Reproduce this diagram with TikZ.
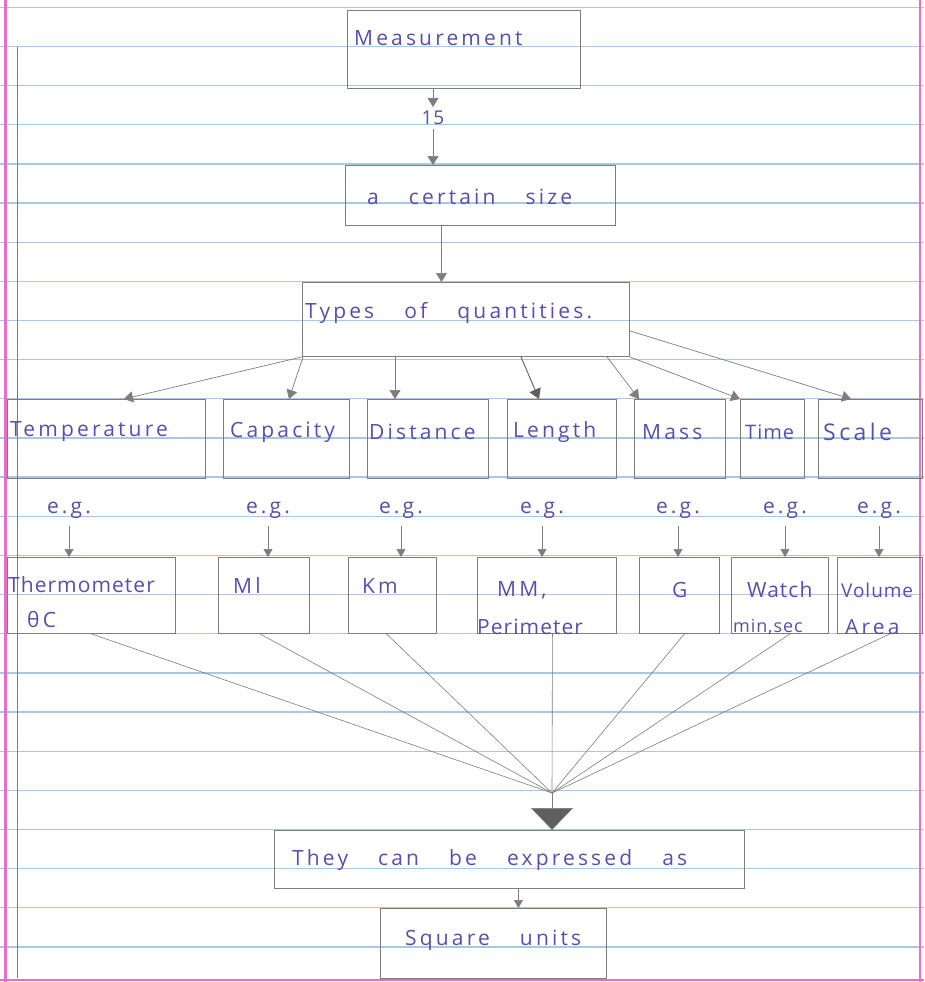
\documentclass[tikz,border=0pt]{standalone}
\usepackage{fontspec}
\newfontfamily\hand{Open Sans}[LetterSpace=15, WordSpace=3.5]
\newfontfamily\handn{Open Sans}[LetterSpace=5, WordSpace=3]
\usetikzlibrary{arrows.meta,calc}
\definecolor{ink}{RGB}{88,78,178}
\definecolor{pencil}{RGB}{125,125,125}
\definecolor{darkpencil}{RGB}{95,95,95}
\definecolor{ruleblue}{RGB}{168,200,228}
\definecolor{marginpink}{RGB}{228,110,200}
\begin{document}
\begin{tikzpicture}[x=1pt,y=-1pt,
  box/.style={draw=pencil, line width=0.9pt, anchor=north west, inner sep=0pt},
  txt/.style={font=\hand\fontsize{21}{24}\selectfont, text=ink, inner sep=0pt},
  conn/.style={draw=pencil, line width=0.7pt, -{Triangle[width=11pt,length=9pt,fill=pencil]}},
  smallconn/.style={draw=pencil, line width=0.7pt, -{Triangle[width=9pt,length=8pt,fill=pencil]}},
  darkconn/.style={draw=darkpencil, line width=0.9pt, -{Triangle[width=12pt,length=10pt,fill=darkpencil]}},
  pline/.style={draw=pencil, line width=0.6pt},
  bigconn/.style={draw=pencil, line width=0.6pt, -{Triangle[width=42pt,length=22pt,fill=darkpencil]}}
]
\useasboundingbox (0,0) rectangle (924,982);
% paper
\fill[white] (0,0) rectangle (924,982);
\foreach \k in {0,...,24}{
  \pgfmathsetmacro\yy{7.3+39.15*\k}
  \draw[ruleblue, line width=1.3pt] (0,\yy) -- (924,\yy);
}
\draw[marginpink, line width=3pt] (5,0) -- (5,982);
\draw[marginpink, line width=2pt] (920,0) -- (920,982);
\draw[marginpink, line width=2pt] (0,980) -- (924,980);
\draw[pencil, line width=0.8pt] (17,47) -- (17,978);

% top chain
\node[box, minimum width=233pt, minimum height=78pt] (meas) at (347,10) {};
\node[txt, anchor=west] (meast) at (354,38) {Measurement};
\node[txt, inner sep=4pt, font=\handn\fontsize{19}{22}\selectfont] (n15) at (433,118) {15};
\node[box, minimum width=270pt, minimum height=60pt] (size) at (345,165) {};
\node[txt, anchor=west] (sizet) at (367,197) {a certain size};
\node[box, minimum width=327pt, minimum height=74pt] (types) at (302,282) {};
\node[txt, anchor=west] (typest) at (305,313) {Types of quantities.};

\draw[conn] (n15 |- meas.south) -- (n15.north);
\draw[conn] (n15.south) -- (n15 |- size.north);
\draw[conn] ([xshift=-39pt]size.south) -- ([xshift=-39pt]size.south |- types.north);

% categories
\node[box, minimum width=198pt, minimum height=79pt] (temp) at (7,399) {};
\node[box, minimum width=126pt, minimum height=79pt] (cap) at (223,399) {};
\node[box, minimum width=121pt, minimum height=79pt] (dist) at (367,399) {};
\node[box, minimum width=109pt, minimum height=79pt] (len) at (507,399) {};
\node[box, minimum width=91pt, minimum height=79pt] (mass) at (634,399) {};
\node[box, minimum width=64pt, minimum height=79pt] (time) at (740,399) {};
\node[box, minimum width=104pt, minimum height=79pt] (scale) at (818,399) {};
\node[txt, anchor=west] (tempt) at (10,432) {Temperature};
\node[txt, anchor=west] (capt) at (230,432) {Capacity};
\node[txt, anchor=west] (distt) at (369,432) {Distance};
\node[txt, anchor=west] (lent) at (513,432) {Length};
\node[txt, anchor=west] (masst) at (642,432) {Mass};
\node[txt, anchor=west, font=\handn\fontsize{20}{24}\selectfont] (timet) at (745,432) {Time};
\node[txt, anchor=west, font=\hand\fontsize{23}{26}\selectfont] (scalet) at (823,432) {Scale};

\draw[conn] (types.south west) -- ([xshift=117pt]temp.north west);
\draw[conn] ([xshift=1pt]types.south west) -- ([xshift=66pt]cap.north west);
\draw[conn] ([xshift=93pt]types.south west) -- ([xshift=28pt]dist.north west);
\draw[darkconn] ([xshift=219pt]types.south west) -- ([xshift=32pt]len.north west);
\draw[conn] ([xshift=305pt]types.south west) -- ([xshift=5pt]mass.north west);
\draw[conn] (types.south east) -- (time.north west);
\draw[conn] ([yshift=26pt]types.south east) -- ([xshift=33pt]scale.north west);

% e.g. labels
\node[txt] (eg1) at (69,510) {e.g.};
\node[txt] (eg2) at (268,510) {e.g.};
\node[txt] (eg3) at (401,510) {e.g.};
\node[txt] (eg4) at (542,510) {e.g.};
\node[txt] (eg5) at (678,510) {e.g.};
\node[txt] (eg6) at (785,510) {e.g.};
\node[txt] (eg7) at (879,510) {e.g.};

% examples
\node[box, minimum width=168pt, minimum height=76pt] (therm) at (7,557) {};
\node[box, minimum width=91pt, minimum height=76pt] (ml) at (218,557) {};
\node[box, minimum width=88pt, minimum height=76pt] (km) at (348,557) {};
\node[box, minimum width=139pt, minimum height=76pt] (mm) at (477,557) {};
\node[box, minimum width=80pt, minimum height=76pt] (g) at (639,557) {};
\node[box, minimum width=97pt, minimum height=76pt] (watch) at (731,557) {};
\node[box, minimum width=85pt, minimum height=76pt] (vol) at (837,557) {};
\node[txt, anchor=west, font=\handn\fontsize{21}{24}\selectfont] (thermt) at (8,585) {Thermometer};
\node[txt, anchor=west] (thermu) at (27,619) {θC};
\node[txt, anchor=west] (mlt) at (233,586) {Ml};
\node[txt, anchor=west] (kmt) at (362,586) {Km};
\node[txt, anchor=west] (mmt) at (497,590) {MM,};
\node[txt, anchor=west, font=\handn\fontsize{21}{24}\selectfont] (mmu) at (477,627) {Perimeter};
\node[txt, anchor=west] (gt) at (672,590) {G};
\node[txt, anchor=west, font=\handn\fontsize{21}{24}\selectfont] (watcht) at (747,590) {Watch};
\node[txt, anchor=west, font=\handn\fontsize{18}{22}\selectfont] (watchu) at (733,627) {min,sec};
\node[txt, anchor=west, font=\handn\fontsize{19}{22}\selectfont] (volt) at (841,590) {Volume};
\node[txt, anchor=west] (volu) at (845,627) {Area};

\foreach \e/\b in {eg1/therm, eg2/ml, eg3/km, eg4/mm, eg5/g, eg6/watch, eg7/vol}{
  \draw[smallconn, shorten <=8pt] (\e.south) -- (\e.south |- \b.north);
}

% convergence
\coordinate (conv) at (552,793);
\draw[pline] (therm.south) -- (conv);
\draw[pline] ([xshift=-4pt]ml.south) -- (conv);
\draw[pline] ([xshift=-6pt]km.south) -- (conv);
\draw[pline] ([xshift=5.5pt]mm.south) -- (conv);
\draw[pline] ([xshift=5pt]g.south) -- (conv);
\draw[pline] ([xshift=10pt]watch.south) -- (conv);
\draw[pline] ([xshift=10pt]vol.south) -- (conv);

\node[box, minimum width=470pt, minimum height=58pt] (expr) at (274,830) {};
\node[txt, anchor=west] (exprt) at (292,860) {They can be expressed as};
\node[box, minimum width=226pt, minimum height=70pt] (sq) at (380,908) {};
\node[txt, anchor=west] (sqt) at (405,940) {Square units};

\draw[bigconn] (conv) -- (conv |- expr.north);
\draw[smallconn] ([xshift=9pt]expr.south) -- ([xshift=9pt]expr.south |- sq.north);
\end{tikzpicture}
\end{document}
